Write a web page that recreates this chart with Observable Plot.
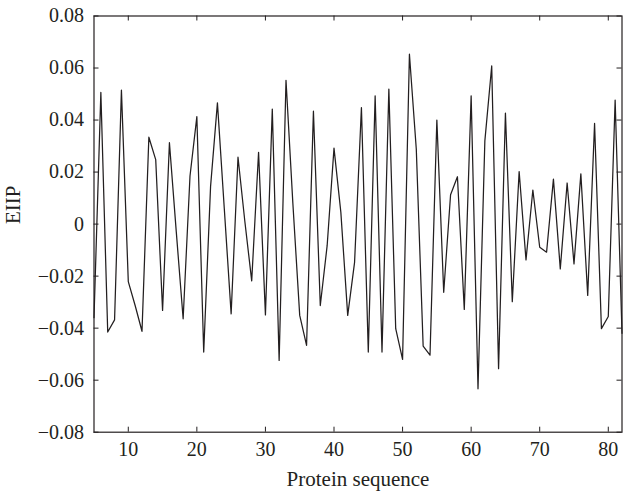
<!DOCTYPE html>
<html><head><meta charset="utf-8">
<script src="https://cdn.jsdelivr.net/npm/d3@7"></script>
<script src="https://cdn.jsdelivr.net/npm/@observablehq/plot@0.6"></script>
<style>
html,body{margin:0;padding:0;background:#fff;}
</style>
</head><body><div id="chart"></div>
<script>
// ---- data ----
const positions = [5,6,7,8,9,10,11,12,13,14,15,16,17,18,19,20,21,22,23,24,25,26,27,28,29,30,31,32,33,34,35,36,37,38,39,40,41,42,43,44,45,46,47,48,49,50,51,52,53,54,55,56,57,58,59,60,61,62,63,64,65,66,67,68,69,70,71,72,73,74,75,76,77,78,79,80,81,82];
const eiip = [-0.036,0.0506,-0.0415,-0.0368,0.0515,-0.0221,-0.0313,-0.0412,0.0334,0.0248,
  -0.0332,0.0313,-0.003,-0.0364,0.0185,0.0413,-0.0492,0.0145,0.0466,0.006,
  -0.0345,0.0257,0.001,-0.0218,0.0276,-0.0349,0.0442,-0.0524,0.0553,0.008,
  -0.0351,-0.0466,0.0434,-0.0313,-0.0083,0.0292,0.0045,-0.0351,-0.0147,0.0448,
  -0.0492,0.0493,-0.0492,0.0519,-0.0402,-0.052,0.0653,0.0289,-0.0469,-0.0504,
  0.0400,-0.0262,0.0113,0.0182,-0.0328,0.0493,-0.0633,0.032,0.0608,-0.0556,
  0.0427,-0.0298,0.0202,-0.0138,0.0131,-0.0089,-0.0108,0.0173,-0.0172,0.0158,
  -0.0153,0.0193,-0.0274,0.0387,-0.0402,-0.0355,0.0477,-0.042];
const xTicks = [10,20,30,40,50,60,70,80];
const yTicks = [-0.08,-0.06,-0.04,-0.02,0,0.02,0.04,0.06,0.08];
const xLabel = "Protein sequence";
const yLabel = "EIIP";

// ---- layout / style ----
const W = 623, H = 495;
const mL = 93.5, mR = 1.5, mT = 15.5, mB = 63.3;
const innerH = H - mT - mB, innerW = W - mL - mR;
const tickLen = 5;
const ink = "#231f20";
const font = "'Liberation Serif', 'DejaVu Serif', serif";
const fmt = d => d === 0 ? "0" : d.toFixed(2).replace("-", "\u2212");

const data = positions.map((x, i) => ({x, y: eiip[i]}));

const chart = Plot.plot({
  width: W, height: H,
  marginLeft: mL, marginRight: mR, marginTop: mT, marginBottom: mB,
  style: {fontFamily: font, fontSize: "20px", color: ink, background: "#fff", overflow: "visible"},
  x: {domain: [5, 82]},
  y: {domain: [-0.08, 0.08]},
  marks: [
    Plot.lineY(data, {x: "x", y: "y", stroke: ink, strokeWidth: 1.25}),
    Plot.tickX(xTicks, {x: d => d, stroke: ink, insetTop: innerH - tickLen}),
    Plot.tickX(xTicks, {x: d => d, stroke: ink, insetBottom: innerH - tickLen}),
    Plot.tickY(yTicks, {y: d => d, stroke: ink, insetLeft: innerW - tickLen}),
    Plot.tickY(yTicks, {y: d => d, stroke: ink, insetRight: innerW - tickLen}),
    Plot.frame({stroke: ink, strokeWidth: 1.2}),
    Plot.axisX({ticks: xTicks, tickSize: 0, tickPadding: 10, label: null, tickFormat: d => String(d)}),
    Plot.axisY({ticks: yTicks, tickSize: 0, tickPadding: 10, label: null, tickFormat: fmt}),
    Plot.text([xLabel], {frameAnchor: "bottom", dy: 54, text: d => d, fill: ink, fontSize: 21}),
    Plot.text([yLabel], {frameAnchor: "left", dx: -80.5, text: d => d, rotate: -90, fill: ink, fontSize: 21})
  ]
});
document.getElementById("chart").appendChild(chart);
</script>
</body></html>
